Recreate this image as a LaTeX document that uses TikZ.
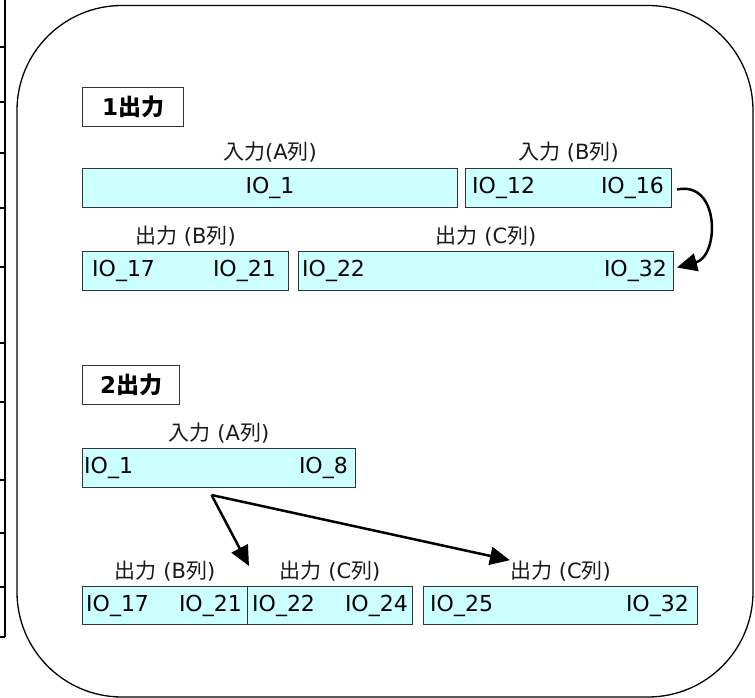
\documentclass[tikz,border=0pt]{standalone}
\usepackage{fontspec}
\setmainfont{DejaVu Sans}
\newfontfamily\jp{Noto Sans CJK JP}
\usetikzlibrary{arrows.meta}
\definecolor{iofill}{HTML}{CCFFFF}
\definecolor{iodraw}{HTML}{333333}

\begin{document}
\begin{tikzpicture}[x=1pt,y=-1pt,
  iobox/.style={draw=iodraw, fill=iofill, line width=1pt, inner sep=0pt, anchor=north west},
  titlebox/.style={draw=iodraw, fill=white, line width=1.2pt, inner sep=0pt, anchor=north west,
    font=\fontsize{23}{26}\selectfont\bfseries},
  iotext/.style={inner sep=0pt, text=black, font=\fontsize{22}{25}\selectfont},
  coltag/.style={inner sep=0pt, anchor=base, text=black!90, font=\fontsize{21}{24}\selectfont},
  link/.style={line width=2.5pt, -{Triangle[length=20pt,width=18pt]}},
]
\useasboundingbox (0,0) rectangle (755,698);

% table edge on the left
\draw[line width=2pt] (4.5,0) -- (4.5,637);
\foreach \yy in {47,102,153,208,267,343,402,480,533,587,637}
  \draw[line width=1.5pt] (0,\yy) -- (4.5,\yy);

% rounded frame
\draw[line width=1.3pt, rounded corners=105pt] (17,5.5) rectangle (753,697);

% ---- 1 output ----
\node[titlebox, minimum width=101pt, minimum height=39pt] (t1) at (82,87) {1{\jp 出力}};

\node[iobox, minimum width=375pt, minimum height=39pt] (a1) at (82,168) {};
\node[iotext, anchor=base] at ([yshift=-5.5pt]a1.center) {IO\_1};
\node[coltag] (la1) at ([yshift=8pt]a1.north) {{\jp 入力}({A\jp 列})};

\node[iobox, minimum width=206pt, minimum height=39pt] (b1) at (465,168) {};
\node[iotext, anchor=base west] at ([xshift=7pt,yshift=-5.5pt]b1.west) {IO\_12};
\node[iotext, anchor=base east] at ([xshift=-8pt,yshift=-5.5pt]b1.east) {IO\_16};
\node[coltag] (lb1) at ([yshift=8pt]b1.north) {{\jp 入力} (B{\jp 列})};

\node[iobox, minimum width=206pt, minimum height=39pt] (bo1) at (82,251) {};
\node[iotext, anchor=base west] at ([xshift=10pt,yshift=-5.5pt]bo1.west) {IO\_17};
\node[iotext, anchor=base east] at ([xshift=-13pt,yshift=-5.5pt]bo1.east) {IO\_21};
\node[coltag] (lbo1) at ([yshift=8pt]bo1.north) {{\jp 出力} (B{\jp 列})};

\node[iobox, minimum width=375pt, minimum height=39pt] (co1) at (298,251) {};
\node[iotext, anchor=base west] at ([xshift=4pt,yshift=-5.5pt]co1.west) {IO\_22};
\node[iotext, anchor=base east] at ([xshift=-7pt,yshift=-5.5pt]co1.east) {IO\_32};
\node[coltag] (lco1) at ([yshift=8pt]co1.north) {{\jp 出力} (C{\jp 列})};

\draw[link] ([xshift=5pt,yshift=-1.5pt]b1.east) to[out=12,in=15,looseness=1.45]
  ([xshift=3pt,yshift=3.5pt]co1.east);

% ---- 2 outputs ----
\node[titlebox, minimum width=97pt, minimum height=39pt] (t2) at (82,365) {2{\jp 出力}};

\node[iobox, minimum width=273pt, minimum height=39pt] (a2) at (82,448) {};
\node[iotext, anchor=base west] at ([xshift=2pt,yshift=-5.5pt]a2.west) {IO\_1};
\node[iotext, anchor=base east] at ([xshift=-8pt,yshift=-5.5pt]a2.east) {IO\_8};
\node[coltag] (la2) at ([yshift=8pt]a2.north) {{\jp 入力} (A{\jp 列})};

\node[iobox, minimum width=165pt, minimum height=38pt] (bo2) at (82,586) {};
\node[iotext, anchor=base west] at ([xshift=4pt,yshift=-5.5pt]bo2.west) {IO\_17};
\node[iotext, anchor=base east] at ([xshift=-6pt,yshift=-5.5pt]bo2.east) {IO\_21};
\node[coltag] (lbo2) at ([yshift=8pt]bo2.north) {{\jp 出力} (B{\jp 列})};

\node[iobox, minimum width=165pt, minimum height=38pt] (co2) at (247,586) {};
\node[iotext, anchor=base west] at ([xshift=5pt,yshift=-5.5pt]co2.west) {IO\_22};
\node[iotext, anchor=base east] at ([xshift=-5pt,yshift=-5.5pt]co2.east) {IO\_24};
\node[coltag] (lco2) at ([yshift=8pt]co2.north) {{\jp 出力} (C{\jp 列})};

\node[iobox, minimum width=274pt, minimum height=38pt] (co3) at (423,586) {};
\node[iotext, anchor=base west] at ([xshift=7pt,yshift=-5.5pt]co3.west) {IO\_25};
\node[iotext, anchor=base east] at ([xshift=-9pt,yshift=-5.5pt]co3.east) {IO\_32};
\node[coltag] (lco3) at ([yshift=8pt]co3.north) {{\jp 出力} (C{\jp 列})};

\coordinate (fork) at ([xshift=-7.5pt,yshift=-7pt]a2.south);
\draw[link] (fork) -- ([xshift=1pt,yshift=20pt]bo2.north east);
\draw[link] (fork) -- (lco3.north west);
\end{tikzpicture}
\end{document}
